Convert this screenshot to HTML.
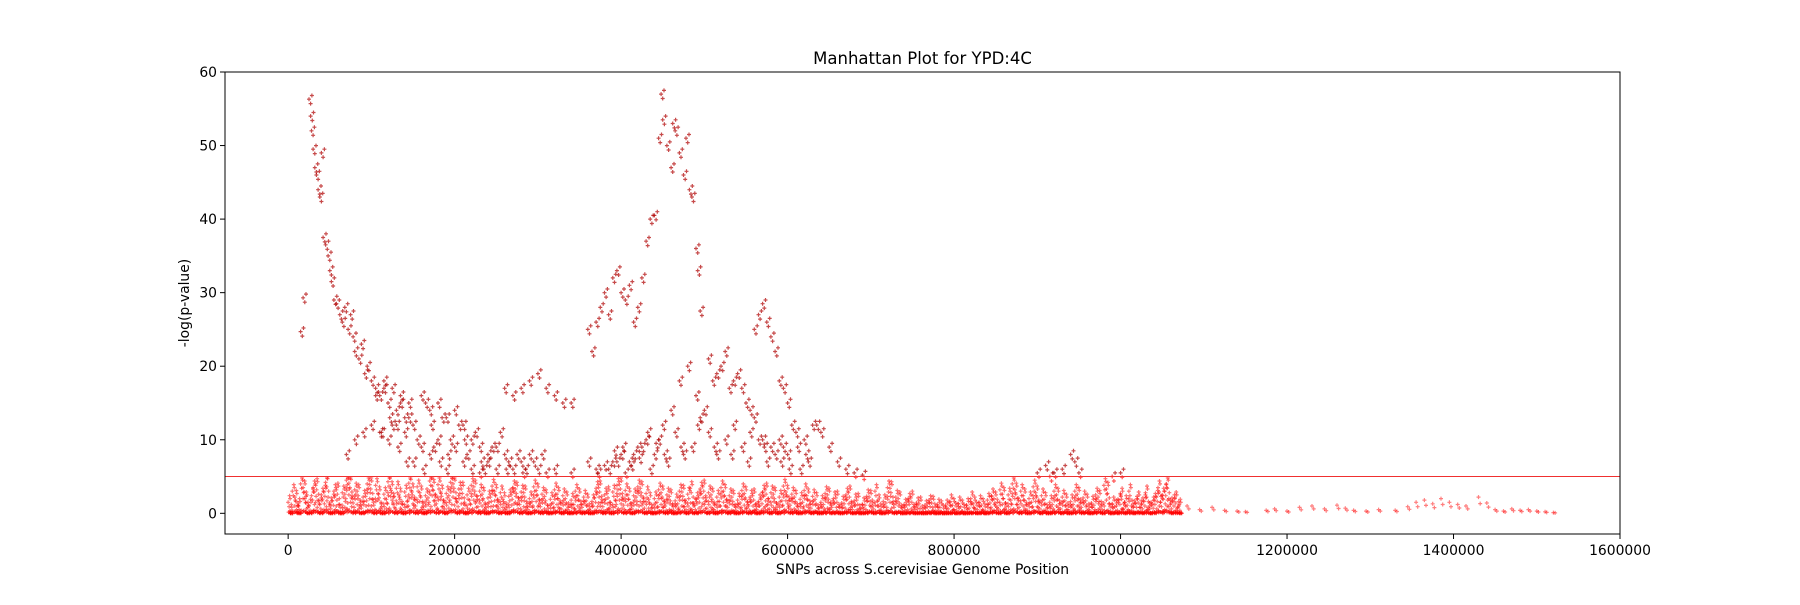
<!DOCTYPE html>
<html><head><meta charset="utf-8">
<style>
html,body{margin:0;padding:0;background:#fff;}
svg text{font-family:"DejaVu Sans","Liberation Sans",sans-serif;}
</style></head>
<body>
<svg id="chart" width="1800" height="600" xmlns="http://www.w3.org/2000/svg">
<rect width="1800" height="600" fill="#fff"/>
<text x="922.5" y="64" font-size="16.5" text-anchor="middle">Manhattan Plot for YPD:4C</text>
<g id="marks"></g>
<g id="axes"></g>
<text x="922.5" y="574" font-size="13.9" text-anchor="middle">SNPs across S.cerevisiae Genome Position</text>
<text transform="translate(189,303) rotate(-90)" font-size="13.9" text-anchor="middle">-log(p-value)</text>
</svg>
<script>
const xTicks=[0,200000,400000,600000,800000,1000000,1200000,1400000,1600000];
const yTicks=[0,10,20,30,40,50,60];
const threshold=5;
// [position kb, -log p] for SNPs above the low band
const highPoints=[[15,24.7],[18,29.3],[25,56.3],[27,54],[28,52],[30,49.5],[32,47],[34,46],[36,44],[38,43],[40,49],[42,37.5],[45,36.5],[48,35],[50,33],[52,31.5],[55,29],[58,28.5],[62,27],[65,26],[68,28],[72,25],[75,27],[78,24],[80,22],[85,21],[88,23],[92,19],[95,20],[100,18],[105,17],[110,16],[115,18],[120,15],[125,17],[130,14],[135,16],[140,13],[145,15],[150,12],[160,16],[170,14],[180,15],[190,13],[200,14],[210,12],[220,10],[230,9],[240,8],[250,9],[260,17],[270,16],[280,17],[290,18],[300,19],[310,17],[320,16],[330,15],[340,15],
[70,8],[80,10],[90,11],[100,12],[110,11],[120,10],[130,12],[140,11],[150,7],[160,9],[170,8],[180,10],[190,6],[200,9],[210,7],[220,6],[230,5.5],[240,7],[250,6],[260,8],[270,6],[280,7],[290,8],[300,6],[310,5.5],[320,6],[340,5.5],[360,7],[370,6],[380,6.5],[390,7],[400,8],[410,7],[420,9],[430,10],[440,8],[450,12],[460,14],[470,18],[480,20],[490,16],[500,14],[510,18],[520,20],[530,17],[540,19],[550,15],[560,13],[570,10],[580,9],[590,10],[600,8],[610,11],[620,10],[630,12],[640,11],[650,9],[660,7],[670,6],[680,5.5],[690,5.2],
[360,25],[365,22],[370,26],[375,28],[380,30],[385,27],[390,32],[395,33],[400,30],[405,29],[410,31],[415,26],[420,28],[425,32],
[430,37],[435,40],[440,40.5],[445,51],[448,57],[450,53.5],[455,50],[460,47],[462,53],[465,52],[470,49],[475,46],[478,51],[482,44],[485,43],[490,36],[492,33],[495,27.5],
[505,21],[515,19],[525,22],[535,18],[545,17],[555,14],[560,25],[565,27],[570,28.5],[575,26],[580,24],[585,22],[590,18],[595,17],[600,15],[605,12],[612,9],
[900,5.5],[910,6.5],[915,5],[920,5.5],[930,6],[940,8],[945,7],[950,5.5],[990,5],[1000,5.5],
[105,16],[115,17],[125,12],[135,15],[145,13],[155,10],[165,15],[175,9],[185,13],[195,10],[205,12],[215,8],[225,11],[235,6],[245,9],[255,11],[265,7],[275,8],[285,6],[295,7],[305,8],[385,6],[395,7],[405,5.5],[415,8],[425,9],[435,6],[445,10],[455,7],[465,11],[475,8],[485,9],[495,13],[505,11],[515,8],[525,10],[535,12],[545,9],[555,11],[565,10],[575,7],[585,8],[595,9],[615,6],[625,7],[635,12],
[112,11],[122,13],[132,9],[142,7],[162,6],[172,12],[182,7],[192,8],[212,10],[232,7],[262,6],[282,5.5],[372,5.5],[392,8.5],[402,9],[412,6.5],[422,7.5],[432,11],[442,9.5],[452,8],[472,9],[492,12],[512,9],[532,8],[552,7],[572,9],[592,7],[602,6],[622,8]];
// [position kb, -log p] for the dense band below threshold
const lowPoints=[[0,1.5],[5,3],[10,0.5],[15,4],[20,2],[25,1],[30,3.5],[35,0.8],[40,2.5],[45,4.2],[50,1.2],[55,3],[60,0.3],[65,2.8],[70,4.5],[75,1.5],[80,3.2],[85,0.6],[90,2.2],[95,4],[100,1],[105,3.8],[110,0.4],[115,2.6],[120,4.3],[125,1.8],[130,3.4],[135,0.7],[140,2.9],[145,4.1],[150,1.3],[155,3.6],[160,0.5],[165,2.4],[170,4.4],[175,1.7],[180,3.9],[185,0.9],[190,2.7],[195,4.2],[200,1.1],[205,3.3],[210,0.6],[215,2.5],[220,3.8],[225,1.4],[230,3],[235,0.3],[240,2.1],[245,3.7],[250,1],[255,2.8],[260,0.5],[265,2.3],[270,3.5],[275,1.2],[280,2.9],[285,0.4],[290,2],[295,3.6],[300,0.9],[305,2.6],[310,0.2],[315,1.9],[320,3.2],[325,0.8],[330,2.4],[335,0.5],[340,1.8],[345,3],[350,0.7],[355,2.2],[360,0.4],[365,1.6],[370,3.4],[375,1],[380,2.5],[385,0.6],[390,2.9],[395,3.8],[400,1.3],[405,3.1],[410,0.5],[415,2.4],[420,3.6],[425,1.1],[430,2.7],[435,0.3],[440,2],[445,3.2],[450,0.8],[455,2.5],[460,0.4],[465,1.7],[470,3],[475,0.9],[480,2.6],[485,0.5],[490,1.9],[495,3.3],[500,1.2],[505,2.8],[510,0.6],[515,2.2],[520,3.5],[525,1],[530,2.4],[535,0.3],[540,1.8],[545,3.1],[550,0.7],[555,2.2],[560,0.4],[565,1.6],[570,2.9],[575,1.1],[580,2.8],[585,0.5],[590,2.2],[595,3.7],[600,1.3],[605,2.6],[610,0.4],[615,1.9],[620,3.1],[625,0.8],[630,2.3],[635,0.2],[640,1.5],[645,2.7],[650,0.6],[655,2],[660,0.3],[665,1.4],[670,2.5],[675,0.5],[680,1.7],[685,0.2],[690,1.2],[695,2.3],[700,0.9],[705,3],[710,0.4],[715,1.6],[720,3.5],[725,0.7],[730,2.2],[735,0.2],[740,1],[745,1.8],[750,0.3],[755,1.2],[760,0.1],[765,0.8],[770,1.5],[775,0.4],[780,1],[785,0.2],[790,0.9],[795,1.6],[800,0.5],[805,1.3],[810,0.3],[815,1.1],[820,2],[825,0.6],[830,1.5],[835,0.4],[840,1.8],[845,2.4],[850,1],[855,3.2],[860,0.5],[865,2.5],[870,4],[875,1.2],[880,3],[885,0.6],[890,2],[895,3.6],[900,0.9],[905,2.4],[910,0.3],[915,1.5],[920,3],[925,0.8],[930,2.2],[935,0.5],[940,1.6],[945,3],[950,1],[955,2.1],[960,0.4],[965,1.4],[970,2.5],[975,0.7],[980,3.8],[985,0.4],[990,1.3],[995,1],[1000,2.5],[1005,1.5],[1010,3],[1015,0.8],[1020,2],[1025,1.2],[1030,2.8],[1035,0.6],[1040,1.8],[1045,3.5],[1050,2.5],[1055,4],[1060,1.2],[1065,2],[1070,1],
[2,0.3],[8,2.2],[12,1.1],[18,3.5],[22,0.6],[28,2.4],[33,3.8],[38,1.2],[43,2.9],[48,0.5],[53,1.7],[58,3.2],[63,0.2],[68,2.6],[73,4.1],[78,1.4],[83,3],[88,0.7],[93,2.3],[98,3.9],[103,1.1],[108,2.7],[113,0.4],[118,1.9],[123,3.4],[128,0.8],[133,2.5],[138,0.3],[143,1.6],[148,3.1],[153,1],[158,2.8],[163,0.5],[168,2.1],[173,3.7],[178,1.3],[183,2.9],[188,0.6],[193,2.4],[198,4],[203,1.5],[208,3.3],[213,0.2],[218,1.8],[223,3.6],[228,0.9],[233,2.6],[238,0.4],[243,2.2],[248,3],[253,0.7],[258,1.9],[263,0.3],[268,2.5],[273,3.3],[278,1.2],[283,2.8],[288,0.5],[293,1.6],[298,3.1],[303,0.9],[308,2.3],[313,0.2],[318,1.4],[323,2.6],[328,0.6],[333,2],[338,0.3],[343,1.2],[348,2.4],[353,0.8],[358,1.7],[363,0.4],[368,2.1],[373,3.5],[378,0.9],[383,2.7],[388,0.3],[393,1.8],[398,3.9],[403,1.1],[408,2.5],[413,0.6],[418,2.2],[423,3.4],[428,0.7],[433,1.9],[438,0.2],[443,1.5],[448,2.8],[453,1],[458,2.3],[463,0.4],[468,1.3],[473,2.9],[478,0.5],[483,3.4],[488,1.1],[493,2.1],[498,3.6],[503,0.7],[508,2.5],[513,0.3],[518,1.6],[523,3],[528,0.8],[533,2.2],[538,0.4],[543,1.4],[548,2.7],[553,1],[558,2.4],[563,0.5],[568,1.9],[573,3.2],[578,0.6],[583,2.6],[588,0.3],[593,1.7],[598,2.9],[603,1.1],[608,2.2],[613,0.4],[618,1.5],[623,2.4],[628,0.7],[633,1.9],[638,0.3],[643,1.2],[648,2.5],[653,0.8],[658,2.1],[663,0.2],[668,1.3],[673,2.8],[678,0.5],[683,1.8],[688,0.3],[693,1.1],[698,2.2],[703,0.6],[708,1.6],[713,0.3],[718,1.4],[723,3.4],[728,0.8],[733,2],[738,0.3],[743,1.1],[748,2.1],[753,0.5],[758,1.3],[763,0.2],[768,0.9],[773,1.4],[778,0.3],[783,0.8],[788,0.2],[793,0.6],[798,1.1],[803,0.4],[808,0.9],[813,0.2],[818,0.7],[823,1.3],[828,0.5],[833,1.1],[838,0.3],[843,1.4],[848,2],[853,0.6],[858,2.6],[863,0.4],[868,1.8],[873,3.2],[878,0.8],[883,2.4],[888,0.4],[893,1.5],[898,2.8],[903,0.6],[908,1.9],[913,0.2],[918,1.2],[923,2.5],[928,0.6],[933,1.7],[938,0.3],[943,1.2],[948,2.6],[953,0.8],[958,1.7],[963,0.3],[968,1.1],[973,2.2],[978,0.5],[983,3.3],[988,0.3],[993,0.9],[998,1.8],[1003,0.6],[1008,1.1],[1013,0.4],[1018,1.4],[1023,0.8],[1028,1.6],[1033,0.5],[1038,1.3],[1043,2.2],[1048,1.5],[1053,3],[1058,0.9],[1063,1.6],[1068,0.7]];
// [position kb, -log p] sparse right tail
const tailPoints=[[1080,1],[1095,0.5],[1110,0.8],[1125,0.4],[1140,0.3],[1150,0.2],[1175,0.4],[1185,0.6],[1200,0.3],[1215,0.8],[1230,1],[1245,0.6],[1260,1.1],[1270,0.7],[1280,0.4],[1295,0.3],[1310,0.5],[1330,0.4],[1345,0.9],[1355,1.5],[1365,1.8],[1375,1.3],[1385,2],[1395,1.5],[1405,1.2],[1415,1],[1430,2.2],[1440,1.4],[1450,0.5],[1460,0.3],[1470,0.6],[1480,0.4],[1490,0.5],[1500,0.3],[1510,0.2],[1520,0.1]];
const NS="http://www.w3.org/2000/svg";
const L=225,R=1620,T=72,B=534;
const xMin=-75862,xMax=1600000,yMin=-2.8125,yMax=60;
function sx(v){return L+(v-xMin)/(xMax-xMin)*(R-L);}
function sy(v){return B-(v-yMin)/(yMax-yMin)*(B-T);}
const marks=document.getElementById('marks');
function plus(x,y,col,op,nm){
  const p=document.createElementNS(NS,'path');
  
  
  p.setAttribute('d',`M${(x-2).toFixed(1)},${y.toFixed(1)}h4M${x.toFixed(1)},${(y-2).toFixed(1)}v4`);
  p.setAttribute('stroke',col);p.setAttribute('stroke-width','1.2');p.setAttribute('opacity',op);
  marks.appendChild(p);
}
const lowJitter=[[0,0],[1.2,-0.6],[2.4,0.5],[3.6,-1.2],[1.8,0.9],[3,-2]];
lowPoints.forEach(([k,v])=>{
  lowJitter.forEach(([dx,dy])=>{
    const yv=Math.min(4.8,Math.max(0,v+dy));
    plus(sx((k+dx)*1000),sy(yv),'#ff0000','0.55','snp-point-low');
  });
  plus(sx((k+0.6)*1000),sy(v*0.1),'#ff0000','0.6','snp-point-low');
  plus(sx((k+2.8)*1000),sy(v*0.05),'#ff0000','0.6','snp-point-low');
});
tailPoints.forEach(([k,v])=>{
  plus(sx(k*1000),sy(v),'#ff0000','0.5','snp-point-tail');
  plus(sx((k+2)*1000),sy(v*0.6),'#ff0000','0.5','snp-point-tail');
});
const highJitter=[[0,0],[2,-0.6],[3.5,0.5]];
highPoints.forEach(([k,v])=>{
  highJitter.forEach(([dx,dy])=>{
    const yv=v+dy;
    const c=yv>threshold?'#b00000':'#ff1010';
    plus(sx((k+dx)*1000),sy(yv),c,'0.7','snp-point-high');
  });
});
const ax=document.getElementById('axes');
const th=document.createElementNS(NS,'line');


th.setAttribute('x1',L);th.setAttribute('x2',R);th.setAttribute('y1',sy(threshold));th.setAttribute('y2',sy(threshold));
th.setAttribute('stroke','#f03030');th.setAttribute('stroke-width','1');
ax.appendChild(th);
const fr=document.createElementNS(NS,'rect');


fr.setAttribute('x',L);fr.setAttribute('y',T);fr.setAttribute('width',R-L);fr.setAttribute('height',B-T);
fr.setAttribute('fill','none');fr.setAttribute('stroke','#000');fr.setAttribute('stroke-width','1');
ax.appendChild(fr);
xTicks.forEach(v=>{
  const x=sx(v);
  const l=document.createElementNS(NS,'line');
  
  
  l.setAttribute('x1',x);l.setAttribute('x2',x);l.setAttribute('y1',B);l.setAttribute('y2',B+5);l.setAttribute('stroke','#000');
  ax.appendChild(l);
  const t=document.createElementNS(NS,'text');
  
  
  t.setAttribute('x',x);t.setAttribute('y',B+21);t.setAttribute('font-size','13.9');t.setAttribute('text-anchor','middle');
  t.textContent=String(v);ax.appendChild(t);
});
yTicks.forEach(v=>{
  const y=sy(v);
  const l=document.createElementNS(NS,'line');
  
  
  l.setAttribute('x1',L-5);l.setAttribute('x2',L);l.setAttribute('y1',y);l.setAttribute('y2',y);l.setAttribute('stroke','#000');
  ax.appendChild(l);
  const t=document.createElementNS(NS,'text');
  
  
  t.setAttribute('x',L-8);t.setAttribute('y',y+5);t.setAttribute('font-size','13.9');t.setAttribute('text-anchor','end');
  t.textContent=String(v);ax.appendChild(t);
});
</script>
</body></html>
